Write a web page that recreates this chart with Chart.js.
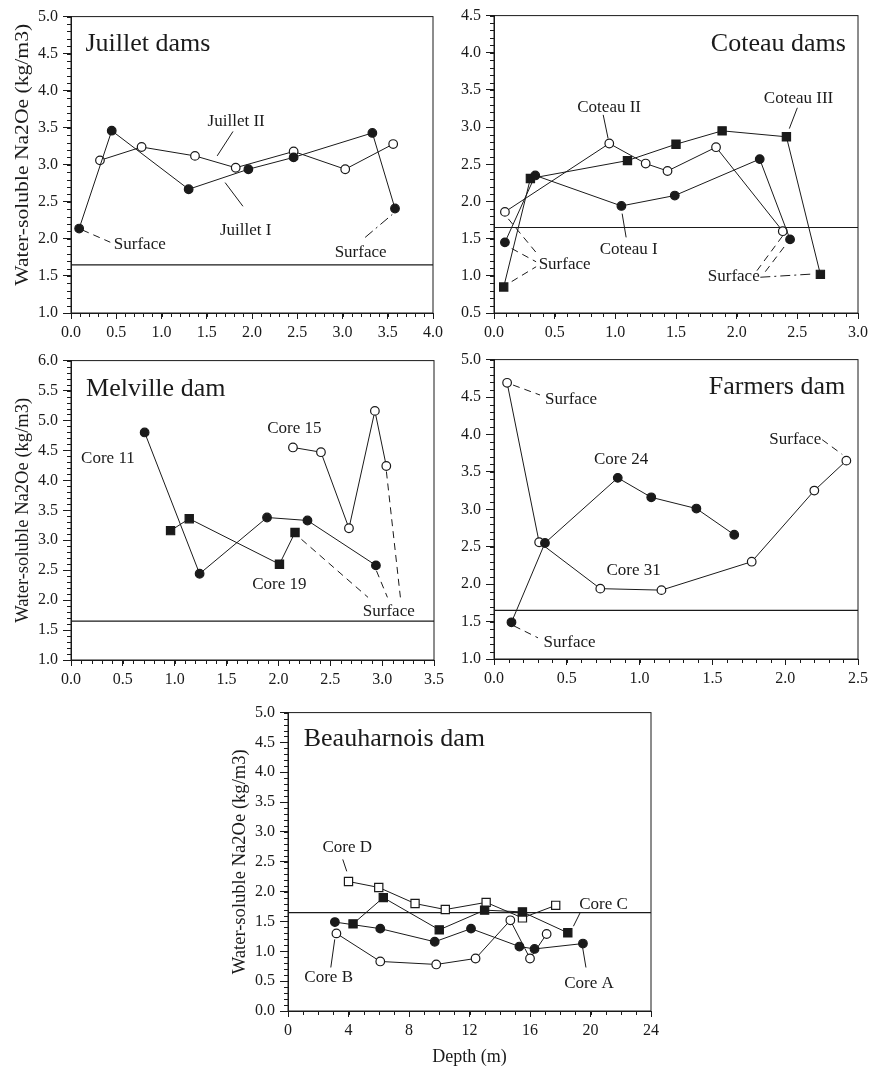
<!DOCTYPE html>
<html>
<head>
<meta charset="utf-8">
<script src="https://cdn.jsdelivr.net/npm/chart.js@4.4.0/dist/chart.umd.min.js"></script>
<style>
  html, body { margin: 0; padding: 0; background: #fff; width: 873px; height: 1070px; overflow: hidden; }
  canvas { position: absolute; }
</style>
</head>
<body>
<canvas id="c1"></canvas>
<canvas id="c2"></canvas>
<canvas id="c3"></canvas>
<canvas id="c4"></canvas>
<canvas id="c5"></canvas>
<script>
const LIMIT = 1.65;   // horizontal reference line

// Juillet dams
const juilletIDepth  = [0.09, 0.45, 1.30, 1.96, 2.46, 3.33, 3.58];
const juilletIValue  = [2.14, 3.46, 2.67, 2.94, 3.10, 3.43, 2.41];
const juilletIIDepth = [0.32, 0.78, 1.37, 1.82, 2.46, 3.03, 3.56];
const juilletIIValue = [3.06, 3.24, 3.12, 2.96, 3.18, 2.94, 3.28];

// Coteau dams
const coteauIDepth   = [0.09, 0.34, 1.05, 1.49, 2.19, 2.44];
const coteauIValue   = [1.45, 2.35, 1.94, 2.08, 2.57, 1.49];
const coteauIIDepth  = [0.09, 0.95, 1.25, 1.43, 1.83, 2.38];
const coteauIIValue  = [1.86, 2.78, 2.51, 2.41, 2.73, 1.60];
const coteauIIIDepth = [0.08, 0.30, 1.10, 1.50, 1.88, 2.41, 2.69];
const coteauIIIValue = [0.85, 2.31, 2.55, 2.77, 2.95, 2.87, 1.02];

// Melville dam
const core11Depth = [0.71, 1.24, 1.89, 2.28, 2.94];
const core11Value = [4.80, 2.44, 3.38, 3.33, 2.58];
const core19Depth = [0.96, 1.14, 2.01, 2.16];
const core19Value = [3.16, 3.36, 2.60, 3.13];
const core15Depth = [2.14, 2.41, 2.68, 2.93, 3.04];
const core15Value = [4.55, 4.47, 3.20, 5.16, 4.24];

// Farmers dam
const core24Depth = [0.12, 0.35, 0.85, 1.08, 1.39, 1.65];
const core24Value = [1.49, 2.55, 3.42, 3.16, 3.01, 2.66];
const core31Depth = [0.09, 0.31, 0.73, 1.15, 1.77, 2.20, 2.42];
const core31Value = [4.69, 2.56, 1.94, 1.92, 2.30, 3.25, 3.65];

// Beauharnois dam
const coreADepth = [3.1, 6.1, 9.7, 12.1, 15.3, 16.3, 19.5];
const coreAValue = [1.49, 1.38, 1.16, 1.38, 1.08, 1.04, 1.13];
const coreBDepth = [3.2, 6.1, 9.8, 12.4, 14.7, 16.0, 17.1];
const coreBValue = [1.30, 0.83, 0.78, 0.88, 1.52, 0.88, 1.29];
const coreCDepth = [4.3, 6.3, 10.0, 13.0, 15.5, 18.5];
const coreCValue = [1.46, 1.90, 1.36, 1.69, 1.66, 1.31];
const coreDDepth = [4.0, 6.0, 8.4, 10.4, 13.1, 15.5, 17.7];
const coreDValue = [2.17, 2.07, 1.80, 1.70, 1.82, 1.56, 1.77];

const Y_TITLE = 'Water-soluble Na2Oe (kg/m3)';
const X_TITLE = 'Depth (m)';

const INK = '#1a1a1a';
const SERIF = '"Liberation Serif", "DejaVu Serif", serif';

const MARKERS = {
    filledCircle: { pointStyle: 'circle', pointRadius: 4.3, pointBackgroundColor: INK },
    openCircle:   { pointStyle: 'circle', pointRadius: 4.3, pointBackgroundColor: '#fff' },
    filledSquare: { pointStyle: 'rect',   pointRadius: 5.8, pointBackgroundColor: INK },
    openSquare:   { pointStyle: 'rect',   pointRadius: 5.8, pointBackgroundColor: '#fff' },
};

const DASHES = { solid: [], dash: [7, 5], dashdot: [10, 4, 2, 4] };

const panels = [
    {
        id: 'c1', area: [71, 14, 433, 313],
        x: { min: 0, max: 4, step: 0.5, minor: 0.1, digits: 1 },
        y: { min: 1, max: 5, step: 0.5, minor: 0.1 },
        yTitle: { len: 262, shift: -10 },
        series: [[juilletIDepth, juilletIValue, 'filledCircle'], [juilletIIDepth, juilletIIValue, 'openCircle']],
        title: ['Juillet dams', 0.16, 4.63, 'left'],
        notes: [['Juillet II', 1.825, 3.59], ['Juillet I', 1.93, 2.115], ['Surface', 0.76, 1.92], ['Surface', 3.20, 1.82]],
        leaders: [[1.615, 3.12, 1.79, 3.45, 'solid'], [1.703, 2.76, 1.90, 2.44, 'solid'],
                  [0.125, 2.12, 0.434, 1.955, 'dash'], [3.25, 2.02, 3.55, 2.33, 'dashdot']],
    },
    {
        id: 'c2', area: [494, 13, 858, 313],
        x: { min: 0, max: 3, step: 0.5, minor: 0.1, digits: 1 },
        y: { min: 0.5, max: 4.5, step: 0.5, minor: 0.1 },
        series: [[coteauIDepth, coteauIValue, 'filledCircle'], [coteauIIDepth, coteauIIValue, 'openCircle'],
                 [coteauIIIDepth, coteauIIIValue, 'filledSquare']],
        title: ['Coteau dams', 2.9, 4.11, 'right'],
        notes: [['Coteau II', 0.949, 3.26], ['Coteau III', 2.51, 3.38], ['Coteau I', 1.11, 1.358],
                ['Surface', 0.582, 1.158], ['Surface', 1.976, 0.985]],
        leaders: [[0.90, 3.165, 0.94, 2.85, 'solid'], [2.50, 3.26, 2.434, 2.98, 'solid'], [1.056, 1.837, 1.089, 1.517, 'solid'],
                  [0.118, 1.766, 0.347, 1.314, 'dash'], [0.146, 1.367, 0.347, 1.189, 'dash'], [0.146, 0.923, 0.347, 1.122, 'dash'],
                  [2.167, 1.069, 2.382, 1.544, 'dash'], [2.236, 1.056, 2.428, 1.468, 'dash'], [2.195, 0.981, 2.635, 1.025, 'dashdot']],
    },
    {
        id: 'c3', area: [71, 358, 434, 660],
        x: { min: 0, max: 3.5, step: 0.5, minor: 0.1, digits: 1 },
        y: { min: 1, max: 6, step: 0.5, minor: 0.1 },
        yTitle: { len: 225, shift: 0 },
        series: [[core11Depth, core11Value, 'filledCircle'], [core19Depth, core19Value, 'filledSquare'],
                 [core15Depth, core15Value, 'openCircle']],
        title: ['Melville dam', 0.145, 5.52, 'left'],
        notes: [['Core 15', 2.153, 4.86], ['Core 11', 0.356, 4.36], ['Core 19', 2.009, 2.257], ['Surface', 3.064, 1.81]],
        leaders: [[2.222, 3.015, 2.864, 2.046, 'dash'], [2.945, 2.49, 3.051, 2.046, 'dash'], [3.041, 4.148, 3.176, 2.046, 'dash']],
    },
    {
        id: 'c4', area: [494, 357, 858, 659],
        x: { min: 0, max: 2.5, step: 0.5, minor: 0.1, digits: 1 },
        y: { min: 1, max: 5, step: 0.5, minor: 0.1 },
        series: [[core24Depth, core24Value, 'filledCircle'], [core31Depth, core31Value, 'openCircle']],
        title: ['Farmers dam', 2.412, 4.63, 'right'],
        notes: [['Surface', 0.529, 4.46], ['Surface', 2.069, 3.93], ['Core 24', 0.873, 3.667],
                ['Core 31', 0.959, 2.183], ['Surface', 0.519, 1.216]],
        leaders: [[0.131, 4.66, 0.316, 4.527, 'dash'], [2.254, 3.93, 2.392, 3.733, 'dash'], [0.137, 1.442, 0.302, 1.283, 'dash']],
    },
    {
        id: 'c5', area: [288, 710, 651, 1011],
        x: { min: 0, max: 24, step: 4, minor: 1, digits: 0 },
        y: { min: 0, max: 5, step: 0.5, minor: 0.1 },
        yTitle: { len: 225, shift: 0 },
        xTitle: true,
        series: [[coreADepth, coreAValue, 'filledCircle'], [coreBDepth, coreBValue, 'openCircle'],
                 [coreCDepth, coreCValue, 'filledSquare'], [coreDDepth, coreDValue, 'openSquare']],
        title: ['Beauharnois dam', 1.04, 4.55, 'left'],
        notes: [['Core D', 3.92, 2.74], ['Core C', 20.86, 1.79], ['Core B', 2.69, 0.557], ['Core A', 19.9, 0.457]],
        leaders: [[3.62, 2.54, 3.885, 2.34, 'solid'], [19.31, 1.644, 18.87, 1.42, 'solid'],
                  [3.09, 1.20, 2.83, 0.729, 'solid'], [19.48, 1.062, 19.70, 0.729, 'solid']],
    },
];

const Y_AXIS_W = 70, PAD_T = 12, PAD_R = 16;

function makeDecor(p) {
    return {
        id: 'decor',
        beforeDatasetsDraw(chart) {
            const { ctx, chartArea: a, scales: { x, y } } = chart;
            ctx.save();
            ctx.strokeStyle = INK;
            ctx.lineWidth = 1;
            ctx.strokeRect(a.left, a.top, a.right - a.left, a.bottom - a.top);

            // minor ticks
            ctx.beginPath();
            const nx = Math.round((p.x.max - p.x.min) / p.x.minor);
            for (let i = 0; i <= nx; i++) {
                const px = Math.round(x.getPixelForValue(p.x.min + i * p.x.minor)) + 0.5;
                ctx.moveTo(px, a.bottom); ctx.lineTo(px, a.bottom + 4);
            }
            const ny = Math.round((p.y.max - p.y.min) / p.y.minor);
            for (let i = 0; i <= ny; i++) {
                const py = Math.round(y.getPixelForValue(p.y.min + i * p.y.minor)) + 0.5;
                ctx.moveTo(a.left - 4, py); ctx.lineTo(a.left, py);
            }
            ctx.stroke();

            // reference line
            const ly = y.getPixelForValue(LIMIT);
            ctx.lineWidth = 1.2;
            ctx.beginPath(); ctx.moveTo(a.left, ly); ctx.lineTo(a.right, ly); ctx.stroke();
            ctx.restore();
        },
        afterDatasetsDraw(chart) {
            const { ctx, chartArea: a, scales: { x, y } } = chart;
            ctx.save();
            ctx.fillStyle = INK;
            ctx.strokeStyle = INK;
            ctx.textBaseline = 'middle';

            const [tt, tx, ty, talign] = p.title;
            ctx.font = '26px ' + SERIF;
            ctx.textAlign = talign;
            ctx.fillText(tt, x.getPixelForValue(tx), y.getPixelForValue(ty));

            ctx.font = '17px ' + SERIF;
            ctx.textAlign = 'center';
            p.notes.forEach(([t, nx, ny]) => ctx.fillText(t, x.getPixelForValue(nx), y.getPixelForValue(ny)));

            ctx.lineWidth = 1;
            p.leaders.forEach(([x1, y1, x2, y2, style]) => {
                ctx.setLineDash(DASHES[style]);
                ctx.beginPath();
                ctx.moveTo(x.getPixelForValue(x1), y.getPixelForValue(y1));
                ctx.lineTo(x.getPixelForValue(x2), y.getPixelForValue(y2));
                ctx.stroke();
            });
            ctx.setLineDash([]);

            if (p.yTitle) {
                ctx.font = '18px ' + SERIF;
                const w = ctx.measureText(Y_TITLE).width;
                ctx.translate(a.left - 48, (a.top + a.bottom) / 2 + p.yTitle.shift);
                ctx.rotate(-Math.PI / 2);
                ctx.scale(p.yTitle.len / w, 1);
                ctx.fillText(Y_TITLE, 0, 0);
                ctx.setTransform(1, 0, 0, 1, 0, 0);
            }
            if (p.xTitle) {
                ctx.font = '18px ' + SERIF;
                ctx.fillText(X_TITLE, (a.left + a.right) / 2, a.bottom + 46);
            }
            ctx.restore();
        },
    };
}

function axis(s, isX) {
    return {
        type: 'linear',
        position: isX ? 'bottom' : 'left',
        min: s.min,
        max: s.max,
        ticks: {
            stepSize: s.step,
            autoSkip: false,
            maxRotation: 0,
            color: INK,
            font: { family: SERIF, size: 16 },
            padding: isX ? 4 : 5,
            callback: v => v.toFixed(isX ? s.digits : 1),
        },
        grid: { display: true, drawOnChartArea: false, drawTicks: true, tickLength: isX ? 6 : 8, color: INK, tickWidth: 1 },
        border: { display: true, color: INK, width: 1 },
    };
}

panels.forEach(p => {
    const [L, T, R, B] = p.area;
    const xAxisH = p.xTitle ? 60 : 34;
    const el = document.getElementById(p.id);
    el.width = (R - L) + Y_AXIS_W + PAD_R;
    el.height = (B - T) + PAD_T + xAxisH;
    el.style.left = (L - Y_AXIS_W) + 'px';
    el.style.top = (T - PAD_T) + 'px';

    const xOpts = axis(p.x, true);
    xOpts.afterFit = scale => { scale.height = xAxisH; };
    const yOpts = axis(p.y, false);
    yOpts.afterFit = scale => { scale.width = Y_AXIS_W; };

    new Chart(el, {
        type: 'scatter',
        data: {
            datasets: p.series.map(([xs, ys, marker]) => ({
                data: xs.map((v, i) => ({ x: v, y: ys[i] })),
                showLine: true,
                borderColor: INK,
                borderWidth: 1,
                pointBorderColor: INK,
                pointBorderWidth: 1.2,
                ...MARKERS[marker],
            })),
        },
        options: {
            responsive: false,
            animation: false,
            devicePixelRatio: 1,
            layout: { padding: { top: PAD_T, right: PAD_R, left: 0, bottom: 0 } },
            plugins: { legend: { display: false }, tooltip: { enabled: false } },
            scales: { x: xOpts, y: yOpts },
        },
        plugins: [makeDecor(p)],
    });
});
</script>
</body>
</html>
